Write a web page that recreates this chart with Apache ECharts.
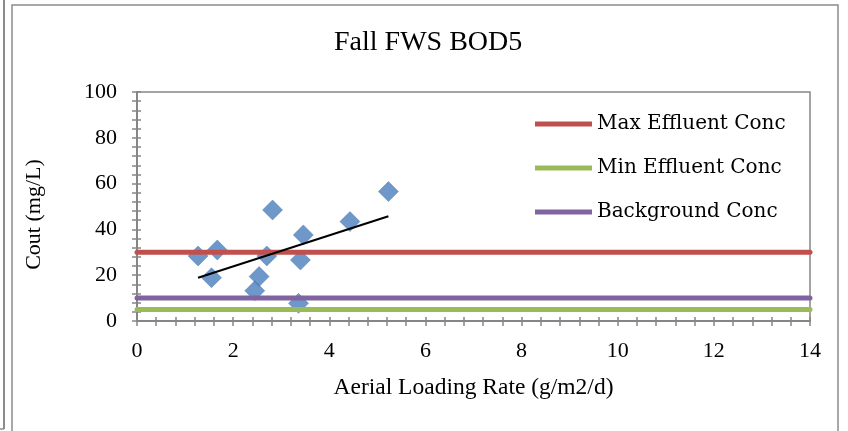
<!DOCTYPE html>
<html>
<head>
<meta charset="utf-8">
<script src="https://cdn.jsdelivr.net/npm/echarts@6/dist/echarts.min.js"></script>
<style>
html,body{margin:0;padding:0;background:#fff;}
#chart{width:848px;height:431px;}
</style>
</head>
<body>
<div id="chart"></div>
<script>
// ---- data ----
const loadingRate = [1.27, 1.67, 1.55, 2.54, 2.45, 2.70, 2.82, 3.36, 3.40, 3.46, 4.43, 5.23];
const coutValues  = [28.4, 31.0, 18.9, 19.4, 13.2, 28.4, 48.5, 7.7, 26.6, 37.6, 43.4, 56.5];
const maxEffluentConc = 30;
const minEffluentConc = 5;
const backgroundConc = 10;
const xRange = [0, 14];
const yRange = [0, 100];
const seriesNames = ['Max Effluent Conc', 'Min Effluent Conc', 'Background Conc'];

// ---- derived ----
const points = loadingRate.map((x, i) => [x, coutValues[i]]);
const n = points.length;
const mx = loadingRate.reduce((a, b) => a + b, 0) / n;
const my = coutValues.reduce((a, b) => a + b, 0) / n;
let sxy = 0, sxx = 0;
for (let i = 0; i < n; i++) {
  sxy += (loadingRate[i] - mx) * (coutValues[i] - my);
  sxx += (loadingRate[i] - mx) * (loadingRate[i] - mx);
}
const slope = sxy / sxx, intercept = my - slope * mx;
const xMin = Math.min(...loadingRate), xMax = Math.max(...loadingRate);
const trend = [[xMin, intercept + slope * xMin], [xMax, intercept + slope * xMax]];

const serif = 'Liberation Serif';
const axisGray = '#868686';

function hLine(name, val, color, z) {
  return {
    name: name, type: 'line', data: [[xRange[0], val], [xRange[1], val]],
    symbol: 'none', z: z, silent: true,
    lineStyle: { color: color, width: 5, cap: 'round' },
    itemStyle: { color: color }
  };
}

const chart = echarts.init(document.getElementById('chart'), null, { renderer: 'canvas' });
chart.setOption({
  animation: false,
  backgroundColor: '#fff',
  title: {
    text: 'Fall FWS BOD5', left: 334, top: 29, padding: 0,
    textStyle: { fontFamily: serif, fontSize: 28, fontWeight: 'normal', color: '#000' }
  },
  legend: {
    data: seriesNames, orient: 'vertical', left: 535, top: 114, padding: 0,
    icon: 'rect', itemWidth: 57, itemHeight: 5, itemGap: 24,
    textStyle: { fontFamily: 'DejaVu Serif', fontSize: 20, color: '#000' }
  },
  graphic: [
    { type: 'rect', shape: { x: 12, y: 5, width: 826, height: 460 }, style: { fill: null, stroke: '#8c8c8c', lineWidth: 1.5 }, silent: true },
    { type: 'line', shape: { x1: 4, y1: 0, x2: 4, y2: 429 }, style: { stroke: '#8c8c8c', lineWidth: 2 }, silent: true },
    { type: 'line', shape: { x1: 0, y1: 429, x2: 4, y2: 429 }, style: { stroke: '#8c8c8c', lineWidth: 1.5 }, silent: true }
  ],
  grid: { left: 137, right: 38, top: 92, bottom: 110, show: true, borderColor: axisGray, borderWidth: 1.5, backgroundColor: 'transparent' },
  xAxis: [
    {
      type: 'value', min: xRange[0], max: xRange[1], interval: 2, position: 'bottom',
      name: 'Aerial Loading Rate (g/m2/d)', nameLocation: 'middle', nameGap: 55,
      nameTextStyle: { fontFamily: serif, fontSize: 23.5, color: '#000' },
      axisLine: { show: true, onZero: false, lineStyle: { color: axisGray, width: 2 } },
      axisTick: { show: true, inside: false, length: 5, lineStyle: { color: axisGray, width: 1.5 } },
      minorTick: { show: true, splitNumber: 5, length: 5, lineStyle: { color: axisGray, width: 1.5 } },
      axisLabel: { fontFamily: serif, fontSize: 22, color: '#000', margin: 19 },
      splitLine: { show: false }
    },
    {
      type: 'value', min: xRange[0], max: xRange[1], interval: 2, position: 'bottom', gridIndex: 0,
      axisLine: { show: false, onZero: false },
      axisTick: { show: true, inside: true, length: 4, lineStyle: { color: axisGray, width: 1.5 } },
      minorTick: { show: true, splitNumber: 5, length: 4, lineStyle: { color: axisGray, width: 1.5 } },
      axisLabel: { show: false }, splitLine: { show: false }
    }
  ],
  yAxis: [
    {
      type: 'value', min: yRange[0], max: yRange[1], interval: 20, position: 'left',
      name: 'Cout (mg/L)', nameLocation: 'middle', nameGap: 92, nameRotate: 90,
      nameTextStyle: { fontFamily: serif, fontSize: 22, color: '#000', padding: [0, 16, 0, 0] },
      axisLine: { show: true, onZero: false, lineStyle: { color: axisGray, width: 2 } },
      axisTick: { show: true, inside: false, length: 5, lineStyle: { color: axisGray, width: 1.5 } },
      minorTick: { show: true, splitNumber: 5, length: 5, lineStyle: { color: axisGray, width: 1.5 } },
      axisLabel: { fontFamily: serif, fontSize: 22, color: '#000', margin: 20 },
      splitLine: { show: false }
    },
    {
      type: 'value', min: yRange[0], max: yRange[1], interval: 20, position: 'left', gridIndex: 0,
      axisLine: { show: false, onZero: false },
      axisTick: { show: true, inside: true, length: 4, lineStyle: { color: axisGray, width: 1.5 } },
      minorTick: { show: true, splitNumber: 5, length: 4, lineStyle: { color: axisGray, width: 1.5 } },
      axisLabel: { show: false }, splitLine: { show: false }
    }
  ],
  series: [
    {
      name: 'Cout', type: 'scatter', data: points, symbol: 'diamond', symbolSize: 20, z: 2,
      itemStyle: { color: '#4A7EBB', borderColor: '#3F6FA8', borderWidth: 0.5 }
    },
    hLine(seriesNames[0], maxEffluentConc, '#C0504D', 3),
    hLine(seriesNames[1], minEffluentConc, '#9BBB59', 3),
    hLine(seriesNames[2], backgroundConc, '#8064A2', 3),
    {
      name: 'Trend', type: 'line', data: trend, symbol: 'none', z: 4, silent: true,
      lineStyle: { color: '#000', width: 2 }
    }
  ]
});
</script>
</body>
</html>
